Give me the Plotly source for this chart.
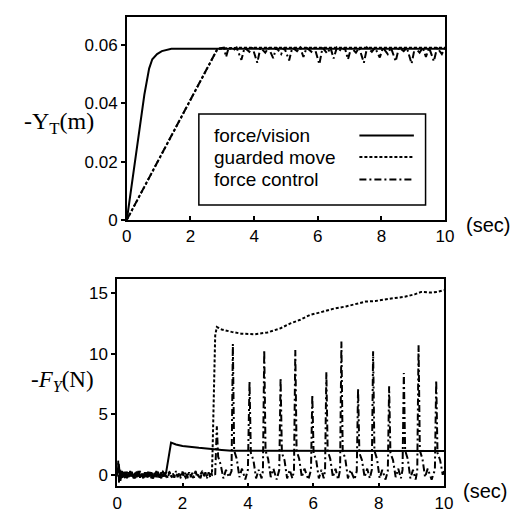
import plotly.graph_objects as go

# ---------------- data: top panel (-Y_T in m) ----------------
fv_top_t = [0, 0.2, 0.4, 0.55, 0.7, 0.8, 0.95, 1.1, 1.4, 10.0]
fv_top_y = [0, 0.0155, 0.031, 0.043, 0.052, 0.0552, 0.0570, 0.0580, 0.0588, 0.0588]

gm_top_t = [0, 2.85, 3.5, 5.0, 7.0, 10.0]
gm_top_y = [0, 0.0588, 0.0592, 0.0592, 0.0592, 0.0592]

fc_top_t = [0, 2.85, 3.05, 3.12, 3.2, 3.35, 3.45, 3.6, 3.7, 3.85, 3.95, 4.1, 4.2, 4.35,
            4.45, 4.6, 4.7, 4.85, 4.95, 5.1, 5.2, 5.35, 5.45, 5.55, 5.65, 5.8, 5.9, 6.05,
            6.15, 6.3, 6.4, 6.5, 6.6, 6.75, 6.85, 6.95, 7.05, 7.2, 7.3, 7.45, 7.55, 7.7,
            7.8, 7.95, 8.05, 8.2, 8.3, 8.45, 8.55, 8.7, 8.8, 8.95, 9.05, 9.2, 9.3, 9.4,
            9.5, 9.65, 9.75, 9.9, 10.0]
fc_top_y = [0, 0.0588, 0.0592, 0.0560, 0.0592, 0.0583, 0.0592, 0.0550, 0.0592, 0.0578,
            0.0592, 0.0540, 0.0592, 0.0575, 0.0592, 0.0556, 0.0592, 0.0570, 0.0592, 0.0548,
            0.0592, 0.0580, 0.0592, 0.0560, 0.0592, 0.0578, 0.0592, 0.0535, 0.0592, 0.0572,
            0.0592, 0.0555, 0.0592, 0.0580, 0.0592, 0.0552, 0.0592, 0.0575, 0.0592, 0.0540,
            0.0592, 0.0578, 0.0592, 0.0558, 0.0592, 0.0570, 0.0592, 0.0545, 0.0592, 0.0580,
            0.0592, 0.0537, 0.0592, 0.0575, 0.0592, 0.0560, 0.0592, 0.0545, 0.0592, 0.0570,
            0.0592]

# ---------------- data: bottom panel (-F_Y in N) ----------------
fv_bot_t = [0, 0.05, 0.1, 0.15, 0.2, 0.25, 0.3, 0.35, 0.4, 0.45, 0.5, 0.55, 0.6, 0.65,
            0.7, 0.75, 0.8, 0.85, 0.9, 0.95, 1.0, 1.05, 1.1, 1.15, 1.2, 1.25, 1.3, 1.35,
            1.4, 1.45, 1.5, 1.65, 1.8, 2.0, 2.5, 2.9, 3.2, 3.5, 5.0, 7.0, 10.0]
fv_bot_f = [0, 0.9, -0.5, 0.3, -0.2, 0.25, -0.3, 0.2, -0.15, 0.25, -0.25, 0.15, -0.2,
            0.3, -0.25, 0.1, -0.3, 0.2, -0.2, 0.25, -0.15, 0.2, -0.3, 0.15, -0.2, 0.25,
            -0.25, 0.2, -0.15, 0.1, 0.2, 2.66, 2.5, 2.38, 2.22, 2.15, 2.05, 1.98, 1.97,
            1.98, 1.97]

gm_bot_t = [0, 0.1, 0.2, 0.3, 0.4, 0.5, 0.6, 0.7, 0.8, 0.9, 1.0, 1.1, 1.2, 1.3, 1.4, 1.5,
            1.6, 1.7, 1.8, 1.9, 2.0, 2.1, 2.2, 2.3, 2.4, 2.5, 2.6, 2.7, 2.8, 2.9, 2.92,
            2.96, 3.0, 3.05, 3.2, 3.5, 3.8, 4.2, 4.6, 5.0, 5.3, 5.6, 5.9, 6.2, 6.6, 7.0,
            7.3, 7.6, 7.9, 8.2, 8.5, 8.8, 9.1, 9.3, 9.6, 9.8, 10.0]
gm_bot_f = [0, -0.3, 0.2, -0.25, 0.15, -0.3, 0.25, -0.2, 0.1, -0.25, 0.2, -0.3, 0.15,
            -0.2, 0.25, -0.15, 0.2, -0.3, 0.1, -0.2, 0.25, -0.25, 0.15, -0.3, 0.2, -0.15,
            0.25, -0.2, 0.1, 0.0, 2.0, 8.0, 11.5, 12.2, 12.0, 11.8, 11.65, 11.6, 11.75,
            12.1, 12.5, 12.8, 13.2, 13.4, 13.7, 13.9, 14.1, 14.3, 14.35, 14.5, 14.6,
            14.7, 14.9, 15.1, 15.05, 15.1, 15.25]

fc_bot_t = [0, 0.03, 0.06, 0.1, 0.15, 0.2, 0.25, 0.3, 0.35, 0.4, 0.45, 0.5, 0.55, 0.6,
            0.65, 0.7, 0.75, 0.8, 0.85, 0.9, 0.95, 1.0, 1.05, 1.1, 1.15, 1.2, 1.25, 1.3,
            1.35, 1.4, 1.45, 1.5, 1.55, 1.6, 1.65, 1.7, 1.75, 1.8, 1.85, 1.9, 1.95, 2.0,
            2.05, 2.1, 2.15, 2.2, 2.25, 2.3, 2.35, 2.4, 2.45, 2.5, 2.55, 2.6, 2.65, 2.7,
            2.75, 2.8, 2.85, 2.9, 2.95,
            3.00, 3.05, 3.09, 3.17, 3.25, 3.33, 3.42, 3.50,
            3.54, 3.58, 3.66, 3.74, 3.82, 3.92, 4.00,
            4.05, 4.09, 4.17, 4.25, 4.33, 4.42, 4.46,
            4.50, 4.54, 4.62, 4.70, 4.78, 4.88, 4.96,
            5.00, 5.04, 5.12, 5.20, 5.28, 5.36, 5.41,
            5.45, 5.49, 5.57, 5.65, 5.73, 5.85, 5.93,
            5.97, 6.01, 6.09, 6.17, 6.25, 6.32, 6.36,
            6.40, 6.44, 6.52, 6.60, 6.68, 6.76, 6.82,
            6.86, 6.90, 6.98, 7.06, 7.14, 7.26, 7.33,
            7.37, 7.41, 7.49, 7.57, 7.65, 7.73, 7.79,
            7.83, 7.87, 7.95, 8.03, 8.11, 8.21, 8.28,
            8.32, 8.36, 8.44, 8.52, 8.60, 8.68, 8.73,
            8.77, 8.81, 8.89, 8.97, 9.05, 9.13, 9.18,
            9.22, 9.26, 9.34, 9.42, 9.50, 9.62, 9.72,
            9.76, 9.80, 9.88, 9.96, 10.0]
fc_bot_f = [0, 1.2, -0.7, 0.4, -0.3, 0.2, -0.35, 0.25, -0.2, 0.3, -0.25, 0.15, -0.3,
            0.2, -0.15, 0.3, -0.25, 0.1, -0.3, 0.25, -0.2, 0.2, -0.3, 0.15, -0.25, 0.3,
            -0.2, 0.1, -0.3, 0.25, -0.15, 0.2, -0.3, 0.25, -0.2, 0.15, -0.25, 0.3, -0.2,
            0.1, -0.3, 0.2, -0.15, 0.25, -0.3, 0.2, -0.2, 0.15, -0.25, 0.3, -0.2, 0.1,
            -0.3, 0.25, -0.15, 0.2, -0.3, 0.2, -0.2, 0.15, 0.1,
            0.0, 4.0, 1.5, 0.8, -0.3, 0.4, -0.2, 0.3,
            10.8, 2.0, 1.3, -0.2, 0.5, -0.4, 0.4,
            7.7, 1.8, 1.2, -0.3, 0.4, -0.3, 0.3,
            10.3, 2.0, 1.3, -0.2, 0.5, -0.4, 0.4,
            8.0, 1.8, 1.2, -0.3, 0.4, -0.3, 0.3,
            10.3, 2.0, 1.3, -0.2, 0.5, -0.4, 0.4,
            6.6, 1.8, 1.2, -0.3, 0.4, -0.3, 0.3,
            8.5, 2.0, 1.3, -0.2, 0.5, -0.4, 0.4,
            11.0, 2.0, 1.3, -0.3, 0.4, -0.4, 0.3,
            7.1, 1.8, 1.2, -0.2, 0.5, -0.3, 0.4,
            10.2, 2.0, 1.3, -0.3, 0.4, -0.4, 0.3,
            7.3, 1.8, 1.2, -0.2, 0.5, -0.3, 0.4,
            8.4, 2.0, 1.3, -0.3, 0.4, -0.4, 0.3,
            10.7, 2.0, 1.3, -0.2, 0.5, -0.4, 0.4,
            7.8, 1.8, 1.2, 0.0, 0.3]

x_ticks = [0, 2, 4, 6, 8, 10]
top_y_ticks = [0, 0.02, 0.04, 0.06]
top_y_labels = ["0", "0.02", "0.04", "0.06"]
bot_y_ticks = [0, 5, 10, 15]
series_names = ["force/vision", "guarded move", "force control"]

# ---------------- styles ----------------
BLK = "black"
SOLID = dict(color=BLK, width=2)
DOT = dict(color=BLK, width=2, dash="3px,2px")
DASHDOT = dict(color=BLK, width=2, dash="7px,3px,2px,3px")
SANS = "Liberation Sans, Arial, sans-serif"
SERIF = "Liberation Serif, Times New Roman, serif"

fig = go.Figure()
# top panel
fig.add_trace(go.Scatter(x=fv_top_t, y=fv_top_y, mode="lines", line=SOLID, xaxis="x", yaxis="y"))
fig.add_trace(go.Scatter(x=gm_top_t, y=gm_top_y, mode="lines", line=DOT, xaxis="x", yaxis="y"))
fig.add_trace(go.Scatter(x=fc_top_t, y=fc_top_y, mode="lines", line=DASHDOT, xaxis="x", yaxis="y"))
# bottom panel
fig.add_trace(go.Scatter(x=fv_bot_t, y=fv_bot_f, mode="lines", line=SOLID, xaxis="x2", yaxis="y2"))
fig.add_trace(go.Scatter(x=gm_bot_t, y=gm_bot_f, mode="lines", line=DOT, xaxis="x2", yaxis="y2"))
fig.add_trace(go.Scatter(x=fc_bot_t, y=fc_bot_f, mode="lines", line=DASHDOT, xaxis="x2", yaxis="y2"))

W, H = 519, 512
def px(x):
    return x / W
def py(y):
    return (H - y) / H

axis_common = dict(showline=True, linecolor=BLK, linewidth=1.5, mirror=True,
                   ticklen=4, tickwidth=1.5, tickcolor=BLK,
                   showgrid=False, zeroline=False,
                   tickfont=dict(family=SANS, size=17, color=BLK))

fig.update_layout(
    width=W, height=H,
    margin=dict(l=0, r=0, t=0, b=0),
    paper_bgcolor="white", plot_bgcolor="white",
    showlegend=False,
    xaxis=dict(domain=[px(117), px(444)], range=[0, 10], tickvals=x_ticks,
               anchor="y", ticks="inside", **axis_common),
    yaxis=dict(domain=[py(216), py(9)], range=[0, 0.0698], tickvals=top_y_ticks,
               ticktext=top_y_labels, anchor="x", ticks="outside", **axis_common),
    xaxis2=dict(domain=[px(107), px(443)], range=[0, 10], tickvals=x_ticks,
                anchor="y2", ticks="inside", **axis_common),
    yaxis2=dict(domain=[py(488), py(276)], range=[-0.97, 16.2], tickvals=bot_y_ticks,
                anchor="x2", ticks="outside", **axis_common),
)

annotations = [
    dict(text="-Y<sub>T</sub>(m)", x=px(9), y=py(117), xanchor="left", yanchor="middle",
         font=dict(family=SERIF, size=24, color=BLK)),
    dict(text="-<i>F<sub>Y</sub></i>(N)", x=px(16), y=py(380), xanchor="left", yanchor="middle",
         font=dict(family=SERIF, size=23, color=BLK)),
    dict(text="(sec)", x=px(463), y=py(221), xanchor="left", yanchor="middle",
         font=dict(family=SANS, size=20, color=BLK)),
    dict(text="(sec)", x=px(460), y=py(493), xanchor="left", yanchor="middle",
         font=dict(family=SANS, size=20, color=BLK)),
]
legend_y = [130, 152, 175]
for name, ly in zip(series_names, legend_y):
    annotations.append(dict(text=name, x=px(205), y=py(ly), xanchor="left", yanchor="middle",
                            font=dict(family=SANS, size=19, color=BLK)))
for a in annotations:
    a.update(xref="paper", yref="paper", showarrow=False)
fig.update_layout(annotations=annotations)

shapes = [dict(type="rect", xref="paper", yref="paper", x0=px(191), x1=px(424),
               y0=py(201), y1=py(108), line=dict(color=BLK, width=1.5),
               fillcolor="white", layer="above")]
for style, ly in zip([SOLID, DOT, DASHDOT], legend_y):
    shapes.append(dict(type="line", xref="paper", yref="paper", x0=px(356), x1=px(412),
                       y0=py(ly), y1=py(ly), line=style, layer="above"))
fig.update_layout(shapes=shapes)

fig.write_html("out.html")
